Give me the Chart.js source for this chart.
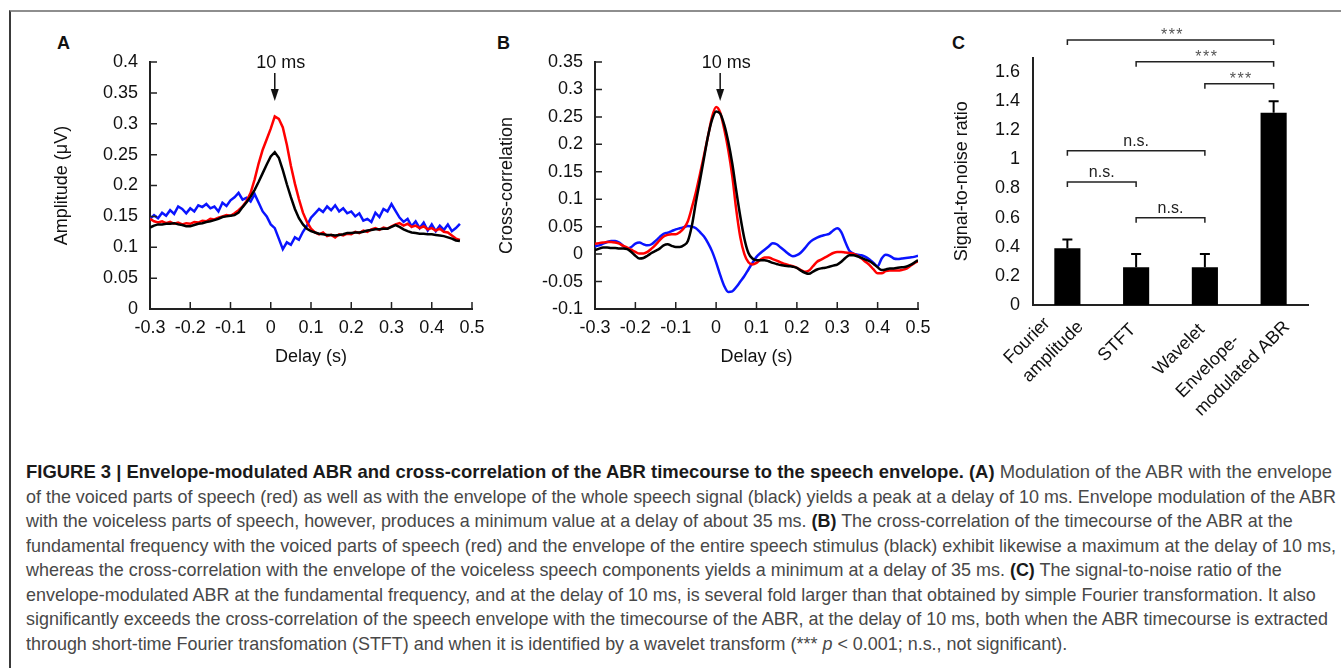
<!DOCTYPE html>
<html>
<head>
<meta charset="utf-8">
<script src="https://cdn.jsdelivr.net/npm/chart.js@4.4.1/dist/chart.umd.min.js"></script>
<style>
  html, body { margin: 0; padding: 0; background: #fff; }
  body { width: 1341px; height: 668px; position: relative; overflow: hidden; font-family: 'Liberation Sans', Arial, sans-serif; }
  .frame { position: absolute; left: 9px; top: 10px; right: -5px; bottom: -5px; border-top: 2px solid #8e8e8e; border-left: 2px solid #3a3a3a; }
  canvas { position: absolute; }
  .tag { position: absolute; top: 33.6px; font-weight: bold; font-size: 18px; line-height: 18px; color: #111; }
  .caption { position: absolute; left: 26px; top: 460px; font-size: 19px; line-height: 24.5px; color: #484848; }
  .caption div { white-space: nowrap; transform-origin: 0 0; }
  .caption span { display: inline-block; }
  .caption b { color: #1a1a1a; }
</style>
</head>
<body>
<div class="frame"></div>
<div class="tag" style="left:57px">A</div>
<div class="tag" style="left:497px">B</div>
<div class="tag" style="left:952px">C</div>
<canvas id="chartA"></canvas>
<canvas id="chartB"></canvas>
<canvas id="chartC"></canvas>

<div class="caption" id="caption">
  <div><span><b>FIGURE 3 | Envelope-modulated ABR and cross-correlation of the ABR timecourse to the speech envelope. (A)</b> Modulation of the ABR with the envelope</span></div>
  <div><span>of the voiced parts of speech (red) as well as with the envelope of the whole speech signal (black) yields a peak at a delay of 10 ms. Envelope modulation of the ABR</span></div>
  <div><span>with the voiceless parts of speech, however, produces a minimum value at a delay of about 35 ms. <b>(B)</b> The cross-correlation of the timecourse of the ABR at the</span></div>
  <div><span>fundamental frequency with the voiced parts of speech (red) and the envelope of the entire speech stimulus (black) exhibit likewise a maximum at the delay of 10 ms,</span></div>
  <div><span>whereas the cross-correlation with the envelope of the voiceless speech components yields a minimum at a delay of 35 ms. <b>(C)</b> The signal-to-noise ratio of the</span></div>
  <div><span>envelope-modulated ABR at the fundamental frequency, and at the delay of 10 ms, is several fold larger than that obtained by simple Fourier transformation. It also</span></div>
  <div><span>significantly exceeds the cross-correlation of the speech envelope with the timecourse of the ABR, at the delay of 10 ms, both when the ABR timecourse is extracted</span></div>
  <div><span>through short-time Fourier transfomation (STFT) and when it is identified by a wavelet transform (*** <i>p</i> &lt; 0.001; n.s., not significant).</span></div>
</div>

<script>
// ---- data: panel A (envelope-modulated ABR amplitude, µV) ----
const delayA = [-0.30,-0.29,-0.28,-0.27,-0.26,-0.25,-0.24,-0.23,-0.22,-0.21,
  -0.20,-0.19,-0.18,-0.17,-0.16,-0.15,-0.14,-0.13,-0.12,-0.11,
  -0.10,-0.09,-0.08,-0.07,-0.06,-0.05,-0.04,-0.03,-0.02,-0.01,
  0.00,0.01,0.02,0.03,0.04,0.05,0.06,0.07,0.08,0.09,
  0.10,0.11,0.12,0.13,0.14,0.15,0.16,0.17,0.18,0.19,
  0.20,0.21,0.22,0.23,0.24,0.25,0.26,0.27,0.28,0.29,
  0.30,0.31,0.32,0.33,0.34,0.35,0.36,0.37,0.38,0.39,
  0.40,0.41,0.42,0.43,0.44,0.45,0.46,0.47];
const wholeA = [0.132,0.135,0.137,0.137,0.138,0.138,0.139,0.137,0.136,0.134,
  0.134,0.136,0.138,0.139,0.141,0.142,0.144,0.146,0.149,0.150,
  0.151,0.152,0.156,0.165,0.173,0.182,0.193,0.206,0.220,0.234,
  0.247,0.254,0.245,0.225,0.202,0.181,0.162,0.147,0.137,0.130,
  0.126,0.124,0.122,0.121,0.120,0.120,0.119,0.120,0.121,0.123,
  0.123,0.124,0.124,0.125,0.127,0.128,0.129,0.129,0.130,0.130,
  0.133,0.136,0.133,0.129,0.126,0.124,0.123,0.122,0.122,0.121,
  0.121,0.120,0.119,0.118,0.116,0.114,0.111,0.110];
const voicedA = [0.146,0.142,0.140,0.142,0.139,0.141,0.138,0.140,0.137,0.139,
  0.138,0.141,0.140,0.143,0.142,0.146,0.145,0.148,0.150,0.152,
  0.151,0.155,0.160,0.166,0.175,0.188,0.210,0.236,0.258,0.275,
  0.292,0.312,0.308,0.294,0.266,0.232,0.203,0.178,0.156,0.141,
  0.130,0.124,0.121,0.124,0.118,0.120,0.116,0.121,0.119,0.122,
  0.121,0.125,0.123,0.127,0.125,0.129,0.131,0.128,0.132,0.130,
  0.134,0.137,0.139,0.135,0.138,0.133,0.135,0.131,0.134,0.129,
  0.131,0.127,0.130,0.125,0.124,0.119,0.114,0.112];
const voicelessA = [0.146,0.152,0.147,0.156,0.151,0.160,0.154,0.166,0.162,0.155,
  0.163,0.158,0.168,0.165,0.170,0.163,0.166,0.158,0.172,0.167,
  0.176,0.181,0.188,0.177,0.180,0.174,0.186,0.172,0.158,0.150,
  0.137,0.131,0.114,0.097,0.108,0.104,0.116,0.112,0.125,0.135,
  0.148,0.155,0.162,0.157,0.166,0.160,0.168,0.158,0.163,0.155,
  0.158,0.150,0.155,0.143,0.146,0.141,0.156,0.149,0.162,0.158,
  0.170,0.159,0.148,0.141,0.146,0.134,0.142,0.131,0.140,0.127,
  0.137,0.126,0.135,0.128,0.137,0.126,0.131,0.138];

// ---- data: panel B (cross-correlation) ----
const delayB = [-0.30,-0.29,-0.28,-0.27,-0.26,-0.25,-0.24,-0.23,-0.22,-0.21,
  -0.20,-0.19,-0.18,-0.17,-0.16,-0.15,-0.14,-0.13,-0.12,-0.11,
  -0.10,-0.09,-0.08,-0.07,-0.06,-0.05,-0.04,-0.03,-0.02,-0.01,
  0.00,0.01,0.02,0.03,0.04,0.05,0.06,0.07,0.08,0.09,
  0.10,0.11,0.12,0.13,0.14,0.15,0.16,0.17,0.18,0.19,
  0.20,0.21,0.22,0.23,0.24,0.25,0.26,0.27,0.28,0.29,
  0.30,0.31,0.32,0.33,0.34,0.35,0.36,0.37,0.38,0.39,
  0.40,0.41,0.42,0.43,0.44,0.45,0.46,0.47,0.48,0.49,0.50];
const wholeB = [0.007,0.010,0.012,0.012,0.011,0.011,0.010,0.010,0.009,0.004,
  -0.003,-0.008,-0.007,-0.003,0.002,0.006,0.010,0.016,0.018,0.015,
  0.013,0.013,0.016,0.024,0.052,0.095,0.134,0.175,0.215,0.245,
  0.260,0.256,0.236,0.205,0.165,0.115,0.068,0.028,0.002,-0.008,
  -0.011,-0.011,-0.011,-0.013,-0.016,-0.018,-0.020,-0.021,-0.022,-0.023,
  -0.025,-0.030,-0.034,-0.036,-0.032,-0.028,-0.026,-0.025,-0.023,-0.021,
  -0.019,-0.014,-0.007,-0.002,-0.002,-0.004,-0.007,-0.010,-0.013,-0.018,
  -0.024,-0.029,-0.028,-0.026,-0.026,-0.025,-0.024,-0.023,-0.020,-0.016,-0.011];
const voicedB = [0.019,0.020,0.021,0.022,0.022,0.021,0.019,0.015,0.012,0.008,
  0.004,0.001,0.001,0.004,0.010,0.017,0.025,0.032,0.035,0.036,
  0.036,0.040,0.047,0.060,0.085,0.113,0.146,0.180,0.215,0.250,
  0.268,0.258,0.228,0.190,0.142,0.080,0.030,0.000,-0.015,-0.019,
  -0.016,-0.010,-0.006,-0.006,-0.009,-0.012,-0.015,-0.018,-0.020,-0.022,
  -0.025,-0.029,-0.032,-0.030,-0.022,-0.014,-0.010,-0.006,-0.002,0.002,
  0.004,0.004,0.003,0.002,0.001,-0.003,-0.008,-0.014,-0.020,-0.028,
  -0.035,-0.035,-0.031,-0.030,-0.030,-0.030,-0.029,-0.027,-0.022,-0.017,-0.013];
const voicelessB = [0.014,0.016,0.019,0.022,0.024,0.024,0.021,0.015,0.010,0.013,
  0.019,0.021,0.018,0.016,0.018,0.024,0.031,0.037,0.039,0.042,
  0.045,0.047,0.049,0.051,0.050,0.047,0.040,0.032,0.020,0.005,
  -0.015,-0.038,-0.058,-0.069,-0.068,-0.060,-0.050,-0.040,-0.028,-0.016,
  -0.005,0.002,0.008,0.014,0.020,0.018,0.012,0.006,0.000,-0.004,
  -0.002,0.003,0.011,0.020,0.026,0.030,0.033,0.035,0.037,0.043,
  0.047,0.040,0.022,0.006,0.001,-0.001,-0.002,-0.005,-0.010,-0.016,
  -0.022,-0.008,-0.001,-0.003,-0.008,-0.009,-0.008,-0.007,-0.006,-0.005,-0.003];

// ---- data: panel C (signal-to-noise ratio) ----
const methodsC = [['Fourier', 'amplitude'], 'STFT', 'Wavelet', ['Envelope-', 'modulated ABR']];
const snrC = [0.39, 0.26, 0.26, 1.32];
const snrErrC = [0.06, 0.09, 0.09, 0.08];
const bracketFrom = [0, 1, 2, 0, 0, 1];
const bracketTo = [3, 3, 3, 2, 1, 2];
const bracketLevel = [1.82, 1.67, 1.52, 1.06, 0.845, 0.60];
const bracketText = ['***', '***', '***', 'n.s.', 'n.s.', 'n.s.'];

// tick labels
const ticksDelay = [-0.3, -0.2, -0.1, 0, 0.1, 0.2, 0.3, 0.4, 0.5];
const ticksAmp = [0, 0.05, 0.1, 0.15, 0.2, 0.25, 0.3, 0.35, 0.4];
const ticksCorr = [-0.1, -0.05, 0, 0.05, 0.1, 0.15, 0.2, 0.25, 0.3, 0.35];
const ticksSnr = [0, 0.2, 0.4, 0.6, 0.8, 1, 1.2, 1.4, 1.6];

const FONT = "'Liberation Sans', Arial, Helvetica, sans-serif";
Chart.defaults.font.family = FONT;
Chart.defaults.font.size = 18;
Chart.defaults.color = '#111';
Chart.defaults.animation = false;
Chart.defaults.plugins.legend.display = false;
Chart.defaults.plugins.tooltip.enabled = false;

const LH = 18 * 1.2;
const AXIS = { display: true, color: '#222', width: 2 };
const NOGRID = { display: false, drawTicks: false };

// canvas placement + padding so the plot area lands where the figure has it
function setup(id, box, area, yTitleX, xTitleY) {
  const c = document.getElementById(id);
  c.width = box.w; c.height = box.h;
  c.style.left = box.x + 'px'; c.style.top = box.y + 'px';
  const padLeft = yTitleX - box.x - LH / 2;
  return {
    canvas: c,
    padding: { left: padLeft, top: area.top - box.y, right: box.x + box.w - area.right, bottom: 0 },
    yWidth: area.left - box.x - padLeft,
    xHeight: box.y + box.h - area.bottom,
    xTitlePad: xTitleY ? box.y + box.h - xTitleY - LH / 2 : 0
  };
}

const fixedTicks = values => scale => { scale.ticks = values.map(v => ({ value: v })); };
const fmt = v => String(+Number(v).toFixed(2));
const pairs = (xs, ys) => xs.map((x, i) => ({ x, y: ys[i] }));

const inwardTicks = {
  id: 'inwardTicks',
  afterDraw(chart) {
    const { ctx, chartArea: a, scales: { x, y } } = chart;
    ctx.save();
    ctx.strokeStyle = '#222';
    ctx.lineWidth = 1.5;
    ctx.beginPath();
    x.ticks.forEach(t => { const px = x.getPixelForValue(t.value); ctx.moveTo(px, a.bottom); ctx.lineTo(px, a.bottom - 7); });
    y.ticks.forEach(t => { const py = y.getPixelForValue(t.value); ctx.moveTo(a.left, py); ctx.lineTo(a.left + 7, py); });
    ctx.stroke();
    ctx.restore();
  }
};

function arrowAt(delay) {
  return {
    id: 'arrow10ms',
    afterDraw(chart) {
      const { ctx, chartArea, scales } = chart;
      const x = scales.x.getPixelForValue(delay);
      const top = chartArea.top;
      ctx.save();
      ctx.fillStyle = '#111';
      ctx.strokeStyle = '#111';
      ctx.font = '18px ' + FONT;
      ctx.textAlign = 'center';
      ctx.textBaseline = 'alphabetic';
      ctx.fillText('10 ms', x + 6, top + 6);
      ctx.lineWidth = 1.5;
      ctx.beginPath(); ctx.moveTo(x, top + 11); ctx.lineTo(x, top + 29); ctx.stroke();
      ctx.beginPath(); ctx.moveTo(x - 4, top + 27); ctx.lineTo(x + 4, top + 27); ctx.lineTo(x, top + 39); ctx.closePath(); ctx.fill();
      ctx.restore();
    }
  };
}

function lineScales(L, yMin, yMax, yTicks, yTitle) {
  return {
    x: {
      type: 'linear', min: -0.3, max: 0.5,
      afterBuildTicks: fixedTicks(ticksDelay),
      afterFit: s => { s.height = L.xHeight; },
      grid: NOGRID, border: AXIS,
      ticks: { padding: 8, callback: fmt, maxRotation: 0 },
      title: { display: true, text: 'Delay (s)', padding: { top: 0, bottom: L.xTitlePad } }
    },
    y: {
      min: yMin, max: yMax,
      afterBuildTicks: fixedTicks(yTicks),
      afterFit: s => { s.width = L.yWidth; },
      grid: NOGRID, border: AXIS,
      ticks: { padding: 12, callback: fmt },
      title: { display: true, text: yTitle, padding: { top: 0, bottom: 0 } }
    }
  };
}

// ---- panel A ----
const LA = setup('chartA', { x: 0, y: 0, w: 500, h: 375 }, { left: 150, top: 62, right: 472, bottom: 309 }, 62, 357);
new Chart(LA.canvas, {
  type: 'line',
  data: { datasets: [
    { data: pairs(delayA, wholeA), borderColor: '#000' },
    { data: pairs(delayA, voicedA), borderColor: '#ff0000' },
    { data: pairs(delayA, voicelessA), borderColor: '#0a14ff' }
  ] },
  options: {
    responsive: false,
    layout: { padding: LA.padding },
    elements: { point: { radius: 0 }, line: { borderWidth: 2.5, tension: 0 } },
    scales: lineScales(LA, 0, 0.4, ticksAmp, 'Amplitude (\u03bcV)')
  },
  plugins: [inwardTicks, arrowAt(0.01)]
});

// ---- panel B ----
const LB = setup('chartB', { x: 485, y: 0, w: 460, h: 375 }, { left: 595, top: 62, right: 918, bottom: 309 }, 507, 357);
new Chart(LB.canvas, {
  type: 'line',
  data: { datasets: [
    { data: pairs(delayB, wholeB), borderColor: '#000' },
    { data: pairs(delayB, voicedB), borderColor: '#ff0000' },
    { data: pairs(delayB, voicelessB), borderColor: '#0a14ff' }
  ] },
  options: {
    responsive: false,
    layout: { padding: LB.padding },
    elements: { point: { radius: 0 }, line: { borderWidth: 2.5, cubicInterpolationMode: 'monotone' } },
    scales: lineScales(LB, -0.1, 0.35, ticksCorr, 'Cross-correlation')
  },
  plugins: [inwardTicks, arrowAt(0.01)]
});

// ---- panel C ----
const errorBars = {
  id: 'errorBars',
  afterDatasetsDraw(chart) {
    const { ctx, scales: { x, y } } = chart;
    ctx.save();
    ctx.strokeStyle = '#000';
    ctx.lineWidth = 2;
    snrC.forEach((v, i) => {
      const px = x.getPixelForValue(i);
      const top = y.getPixelForValue(v + snrErrC[i]);
      ctx.beginPath();
      ctx.moveTo(px, y.getPixelForValue(v)); ctx.lineTo(px, top);
      ctx.moveTo(px - 5, top); ctx.lineTo(px + 5, top);
      ctx.stroke();
    });
    ctx.restore();
  }
};

const brackets = {
  id: 'brackets',
  afterDraw(chart) {
    const { ctx, scales: { x, y } } = chart;
    ctx.save();
    ctx.lineWidth = 1.5;
    ctx.strokeStyle = '#222';
    ctx.textAlign = 'center';
    ctx.textBaseline = 'alphabetic';
    bracketLevel.forEach((lvl, i) => {
      const x1 = x.getPixelForValue(bracketFrom[i]);
      const x2 = x.getPixelForValue(bracketTo[i]);
      const py = y.getPixelForValue(lvl);
      ctx.beginPath();
      ctx.moveTo(x1, py + 5); ctx.lineTo(x1, py); ctx.lineTo(x2, py); ctx.lineTo(x2, py + 5);
      ctx.stroke();
      const stars = bracketText[i] === '***';
      ctx.font = (stars ? '16px ' : '16px ') + FONT;
      ctx.fillStyle = stars ? '#555' : '#222';
      ctx.letterSpacing = stars ? '1.5px' : '0px';
      ctx.fillText(bracketText[i], (x1 + x2) / 2 + (stars ? 2 : 0), py - (stars ? 0 : 5));
    });
    ctx.restore();
  }
};

// slanted category names: lines left-aligned inside a block whose end sits at the tick
const slantLabels = {
  id: 'slantLabels',
  afterDraw(chart) {
    const { ctx, chartArea: a, scales: { x } } = chart;
    ctx.save();
    ctx.font = '18px ' + FONT;
    ctx.fillStyle = '#111';
    ctx.textAlign = 'left';
    ctx.textBaseline = 'middle';
    const lh = 26;
    methodsC.forEach((label, i) => {
      const lines = [].concat(label);
      const extra = lines.length - 1;
      const w = Math.max(...lines.map(s => ctx.measureText(s).width));
      ctx.save();
      ctx.translate(x.getPixelForValue(i) - 3 + 7 * extra, a.bottom + 22 - 12 * extra);
      ctx.rotate(-Math.PI / 4);
      lines.forEach((s, k) => ctx.fillText(s, -w, (k - extra / 2) * lh));
      ctx.restore();
    });
    ctx.restore();
  }
};

const LC = setup('chartC', { x: 940, y: 0, w: 401, h: 450 }, { left: 1033, top: 57.5, right: 1308, bottom: 305 }, 962, 0);
new Chart(LC.canvas, {
  type: 'bar',
  data: {
    labels: methodsC,
    datasets: [{ data: snrC, backgroundColor: '#000', borderWidth: 0, barPercentage: 0.38, categoryPercentage: 1 }]
  },
  options: {
    responsive: false,
    layout: { padding: LC.padding },
    scales: {
      x: {
        afterFit: s => { s.height = LC.xHeight; },
        grid: NOGRID, border: AXIS,
        ticks: { display: false }
      },
      y: {
        min: 0, max: 1.7,
        afterBuildTicks: fixedTicks(ticksSnr),
        afterFit: s => { s.width = LC.yWidth; },
        grid: NOGRID, border: AXIS,
        ticks: { padding: 13, callback: fmt },
        title: { display: true, text: 'Signal-to-noise ratio', padding: { top: 0, bottom: 0 } }
      }
    }
  },
  plugins: [errorBars, brackets, slantLabels]
});

// caption: squeeze to the condensed width of the original type
const capLines = document.querySelectorAll('#caption div');
const widthOf = d => d.querySelector('span').getBoundingClientRect().width;
const k = 1310 / widthOf(capLines[1]);
const k0 = 1306 / widthOf(capLines[0]);
capLines.forEach((d, i) => { d.style.transform = 'scaleX(' + (i === 0 ? k0 : k) + ')'; });
</script>
</body>
</html>
